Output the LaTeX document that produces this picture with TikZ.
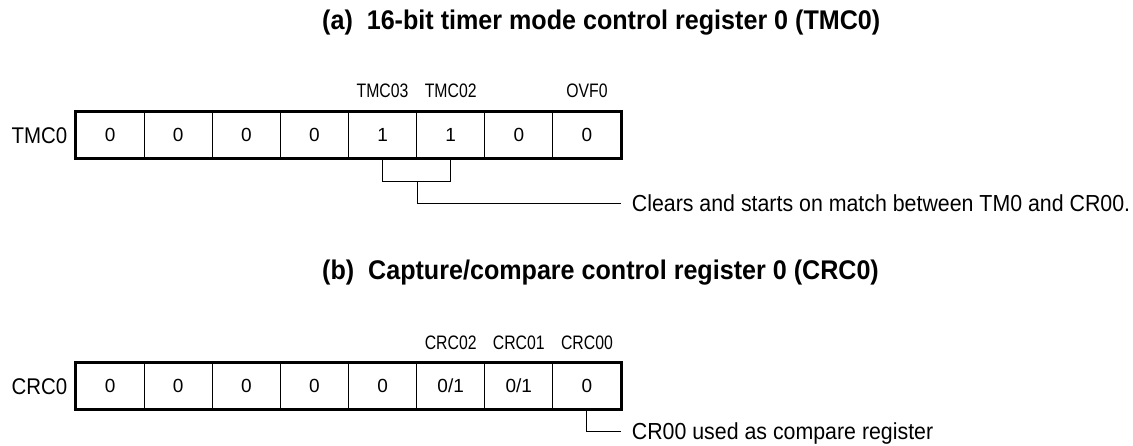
\documentclass[tikz,border=0pt]{standalone}
\usepackage{fontspec}
\setmainfont{Liberation Sans}
\newfontfamily\titlefont{Liberation Sans}[FakeStretch=0.93]
\newfontfamily\namefont{Liberation Sans}[FakeStretch=0.9]
\newfontfamily\bitfont{Liberation Sans}[FakeStretch=0.81]
\newfontfamily\notefont{Liberation Sans}[FakeStretch=0.92]
\usetikzlibrary{calc}
\tikzset{
  cell/.style={draw=black, line width=1pt, minimum width=68.125pt, minimum height=46pt, inner sep=0pt, font=\fontsize{19}{19}\selectfont},
  outer/.style={draw=black, line width=2.6pt},
  bitlbl/.style={inner sep=0pt, font=\bitfont\fontsize{19.5}{19.5}\selectfont},
  namelbl/.style={inner sep=0pt, anchor=east, font=\namefont\fontsize{22.7}{22.7}\selectfont},
  notelbl/.style={inner sep=0pt, font=\notefont\fontsize{23.2}{23.2}\selectfont},
  titlelbl/.style={inner sep=0pt, anchor=base west, font=\titlefont\bfseries\fontsize{27}{27}\selectfont},
  brk/.style={draw=black, line width=1.1pt},
}
\begin{document}
\begin{tikzpicture}[x=1pt,y=-1pt]
\useasboundingbox (0,0) rectangle (1133,446);

% (a) TMC0
\node[titlelbl] (ta) at (322,30) {(a)\ \ 16-bit timer mode control register 0 (TMC0)};
\foreach \v [count=\i] in {0,0,0,0,1,1,0,0}
  \node[cell] (a\i) at ({76+(\i-0.5)*68.125},135.3) {\v};
\draw[outer] (a1.north west) rectangle (a8.south east);
\node[namelbl] (na) at ([xshift=-8pt]a1.west) {TMC0};
\node[bitlbl] (la5) at ([yshift=20.6pt]a5.north) {TMC03};
\node[bitlbl] (la6) at ([yshift=20.6pt]a6.north) {TMC02};
\node[bitlbl] (la8) at ([yshift=20.6pt]a8.north) {OVF0};
\node[notelbl, anchor=west] (ca) at (631.7,203.3) {Clears and starts on match between TM0 and CR00.};
\draw[brk] (a5.south) -- ++(0,22.4) coordinate (bl) -| (a6.south);
\draw[brk] (a5.south east |- bl) |- ([xshift=-11pt]ca.west);

% (b) CRC0
\node[titlelbl] (tb) at (322,279.5) {(b)\ \ Capture/compare control register 0 (CRC0)};
\foreach \v [count=\i] in {0,0,0,0,0,0/1,0/1,0}
  \node[cell] (b\i) at ({76+(\i-0.5)*68.125},386.2) {\v};
\draw[outer] (b1.north west) rectangle (b8.south east);
\node[namelbl] (nb) at ([xshift=-8pt]b1.west) {CRC0};
\node[bitlbl] (lb6) at ([yshift=19.5pt]b6.north) {CRC02};
\node[bitlbl] (lb7) at ([yshift=19.5pt]b7.north) {CRC01};
\node[bitlbl] (lb8) at ([yshift=19.5pt]b8.north) {CRC00};
\node[notelbl, anchor=base west] (cb) at (631.7,439.5) {CR00 used as compare register};
\draw[brk] (b8.south) |- ([xshift=-11pt,yshift=8.3pt]cb.base west);
\end{tikzpicture}
\end{document}
